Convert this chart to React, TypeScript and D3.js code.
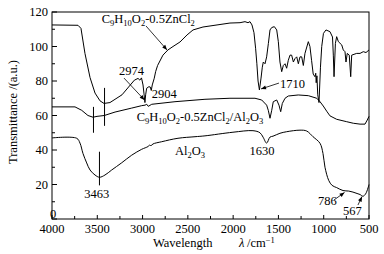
import React from "react";
import * as d3 from "d3";

// wavenumber (cm-1) / transmittance pairs
const wn1 = [4000, 3713, 3680, 3636, 3580, 3525, 3470, 3426, 3360, 3227, 3090, 3050, 3030, 3012, 2995, 2985, 2974, 2966, 2955, 2930, 2915, 2904, 2893, 2871, 2856, 2834, 2775, 2720, 2664, 2587, 2509, 2443, 2333, 2178, 2035, 1924, 1869, 1836, 1814, 1792, 1770, 1752, 1738, 1725, 1710, 1692, 1678, 1667, 1648, 1630, 1611, 1593, 1574, 1545, 1519, 1501, 1483, 1464, 1446, 1427, 1409, 1391, 1372, 1354, 1335, 1317, 1298, 1280, 1262, 1243, 1225, 1207, 1170, 1152, 1134, 1116, 1097, 1088, 1083, 1075, 1066, 1052, 1036, 1022, 1003, 975, 931, 903, 894, 886, 871, 857, 838, 801, 784, 765, 754, 740, 718, 702, 691, 636, 599, 563, 533, 500];
const t1 = [112.5, 112.3, 110.5, 96, 82, 73, 68.5, 67, 67.5, 72, 80.5, 81.5, 80.5, 81.8, 77.7, 73, 67.5, 72, 75.8, 76.7, 76.5, 74.5, 77.7, 81.6, 85.4, 89, 95, 98, 100, 102.6, 106.7, 109.6, 111.3, 112.5, 113.6, 113.8, 114.4, 113.8, 114.4, 112.5, 108, 99, 90, 80, 74.8, 81.7, 88, 91, 90, 94, 101.8, 109.6, 111, 111.5, 109.6, 102.8, 91, 85.4, 89, 90, 87.4, 92, 95, 95, 91, 93, 94, 90, 94, 94, 89, 96, 102.8, 100, 92, 84, 82.5, 84.5, 79, 83, 72, 67.5, 88, 100, 107.6, 109.6, 108.6, 105.5, 95, 82.5, 101.8, 105.7, 102.8, 100.9, 98, 97, 91, 96, 95, 82.5, 95, 96, 96, 97, 96.5, 98];

const wn2 = [4000, 3746, 3672, 3603, 3547, 3503, 3423, 3304, 3120, 3010, 2973, 2954, 2937, 2899, 2642, 2311, 2035, 1759, 1685, 1630, 1612, 1593, 1574, 1557, 1519, 1494, 1475, 1457, 1427, 1391, 1281, 1170, 1077, 1041, 1005, 967, 931, 857, 746, 673, 599, 544, 519, 500];
const t2 = [65, 65, 63, 60, 59, 59.5, 60, 62, 64.3, 65.7, 66, 66.5, 65.3, 66.5, 68, 69.4, 70, 70, 69, 66, 63, 58.4, 63, 68, 69, 66, 62.2, 67, 70, 71.3, 71.9, 71.5, 70, 68, 65.5, 62.5, 59.8, 57.8, 56.4, 55.5, 55, 55, 57.4, 59.5];

const wn3 = [4000, 3727, 3691, 3658, 3617, 3580, 3525, 3476, 3415, 3341, 3230, 3120, 3010, 2940, 2923, 2907, 2885, 2789, 2609, 2421, 2311, 2002, 1781, 1704, 1670, 1630, 1593, 1560, 1483, 1409, 1262, 1188, 1118, 1041, 1008, 986, 945, 908, 857, 787, 724, 677, 632, 599, 566, 538, 511, 500];
const t3 = [47, 46.8, 44, 38, 32.5, 28.4, 25.5, 24.2, 25.5, 28.4, 32.6, 37, 40.4, 42, 42.8, 42.5, 43.5, 44.8, 46.8, 47.7, 48.2, 50.3, 51.2, 50, 47.5, 44, 47.5, 48, 49.7, 50.6, 51.5, 51, 47.7, 43.9, 38, 30, 22.4, 19.5, 18.2, 16.5, 16.2, 15.6, 14.8, 14.2, 13.2, 14.5, 18, 20];

const xTicks = [4000, 3500, 3000, 2500, 2000, 1500, 1000, 500];
const yTicks = [0, 20, 40, 60, 80, 100, 120];

// peak markers (vertical strokes): [wavenumber, from, to]
const markers: [number, number, number][] = [
  [3420, 54, 76],
  [3542, 50, 65],
  [3476, 19.5, 39],
];

// arrows: [w0, v0, w1, v1]
const arrows: [number, number, number, number][] = [
  [2962, 111.9, 2730, 98.0],
  [3205, 81.7, 2979, 69.0],
  [1494, 78.8, 1692, 75.4],
  [887, 11.0, 770, 15.4],
  [622, 8.1, 577, 13.0],
];

const W = 384, H = 254;
const FONT = "'Liberation Serif', 'Times New Roman', serif";

type Part = [string, boolean];
const name1: Part[] = [["C", false], ["9", true], ["H", false], ["10", true], ["O", false], ["2", true], ["-0.5ZnCl", false], ["2", true]];
const name2: Part[] = [...name1, ["/Al", false], ["2", true], ["O", false], ["3", true]];
const name3: Part[] = [["Al", false], ["2", true], ["O", false], ["3", true]];

const Chem = ({ parts, x, y }: { parts: Part[]; x: number; y: number }) => {
  let prevSub = false;
  return (
    <text x={x} y={y} fontSize={12.5} fontFamily={FONT}>
      {parts.map(([s, sub], i) => {
        const dy = sub === prevSub ? 0 : sub ? 3 : -3;
        prevSub = sub;
        return (
          <tspan key={i} dy={dy} fontSize={sub ? 8.5 : 12.5}>
            {s}
          </tspan>
        );
      })}
    </text>
  );
};

export default function App() {
  const x = d3.scaleLinear().domain([4000, 500]).range([52, 369]);
  const y = d3.scaleLinear().domain([0, 120]).range([219, 12]);

  const line = (wn: number[], t: number[], curve: d3.CurveFactory) =>
    d3
      .line<number>()
      .x((d) => x(wn[d]))
      .y((d) => y(t[d]))
      .curve(curve)(d3.range(wn.length)) as string;

  const minorX = d3.range(4000, 499, -250);
  const minorY = d3.range(0, 121, 10);

  return (
    <svg width={W} height={H} style={{ position: "absolute", left: 0, top: 0, background: "#fff" }}>
      <defs>
        <marker id="ah" viewBox="0 0 10 10" refX="10" refY="5" markerWidth="7" markerHeight="5" orient="auto" markerUnits="userSpaceOnUse">
          <path d="M0,1 L10,5 L0,9 z" fill="#000" />
        </marker>
      </defs>

      {/* curves */}
      <g fill="none" stroke="#000" strokeWidth={1}>
        <path d={line(wn1, t1, d3.curveLinear)} />
        <path d={line(wn2, t2, d3.curveLinear)} />
        <path d={line(wn3, t3, d3.curveCatmullRom.alpha(0.5))} />
        {markers.map(([w, a, b], i) => (
          <line key={i} x1={x(w)} x2={x(w)} y1={y(a)} y2={y(b)} />
        ))}
        {arrows.map(([w0, v0, w1, v1], i) => (
          <line key={i} x1={x(w0)} y1={y(v0)} x2={x(w1)} y2={y(v1)} strokeWidth={0.8} markerEnd="url(#ah)" />
        ))}
      </g>

      {/* frame and ticks */}
      <rect x={52} y={12} width={317} height={207} fill="none" stroke="#000" strokeWidth={1} />
      <g stroke="#000" strokeWidth={1}>
        {minorY.map((v) => (
          <line key={v} x1={52} x2={52 + (v % 20 === 0 ? 5 : 3)} y1={y(v)} y2={y(v)} />
        ))}
        {minorX.map((w) => (
          <line key={w} x1={x(w)} x2={x(w)} y1={219} y2={219 - (w % 500 === 0 ? 4 : 3)} />
        ))}
      </g>

      <g fontFamily={FONT} fontSize={12.5} fill="#000">
        {yTicks.map((v) =>
          v === 0 ? (
            <text key={v} x={53} y={217.5} textAnchor="middle">0</text>
          ) : (
            <text key={v} x={48} y={y(v)} dy="0.35em" textAnchor="end">{v}</text>
          )
        )}
        {xTicks.map((w) => (
          <text key={w} x={x(w)} y={233} textAnchor="middle">{w}</text>
        ))}
        <text transform="translate(17,112) rotate(-90)" textAnchor="middle">Transmittance /(a.u.)</text>
        <text x={153} y={247}>Wavelength</text>
        <text x={239} y={247} fontStyle="italic">λ</text>
        <text x={247} y={247}>/cm<tspan dy={-4} fontSize={8.5}>−1</tspan></text>

        <text x={x(2974) - 26} y={75}>2974</text>
        <text x={x(2899)} y={y(70.1)}>2904</text>
        <text x={x(1483)} y={y(76.2)}>1710</text>
        <text x={262} y={y(37.1)} textAnchor="middle">1630</text>
        <text x={x(3507)} y={y(11.9)} textAnchor="middle">3463</text>
        <text x={x(1063)} y={y(8.1)}>786</text>
        <text x={x(787)} y={y(2.3)}>567</text>
      </g>
      <Chem parts={name1} x={x(3451)} y={y(113.9)} />
      <Chem parts={name2} x={x(3065)} y={y(57.1)} />
      <Chem parts={name3} x={x(2642)} y={y(37.1)} />
    </svg>
  );
}
